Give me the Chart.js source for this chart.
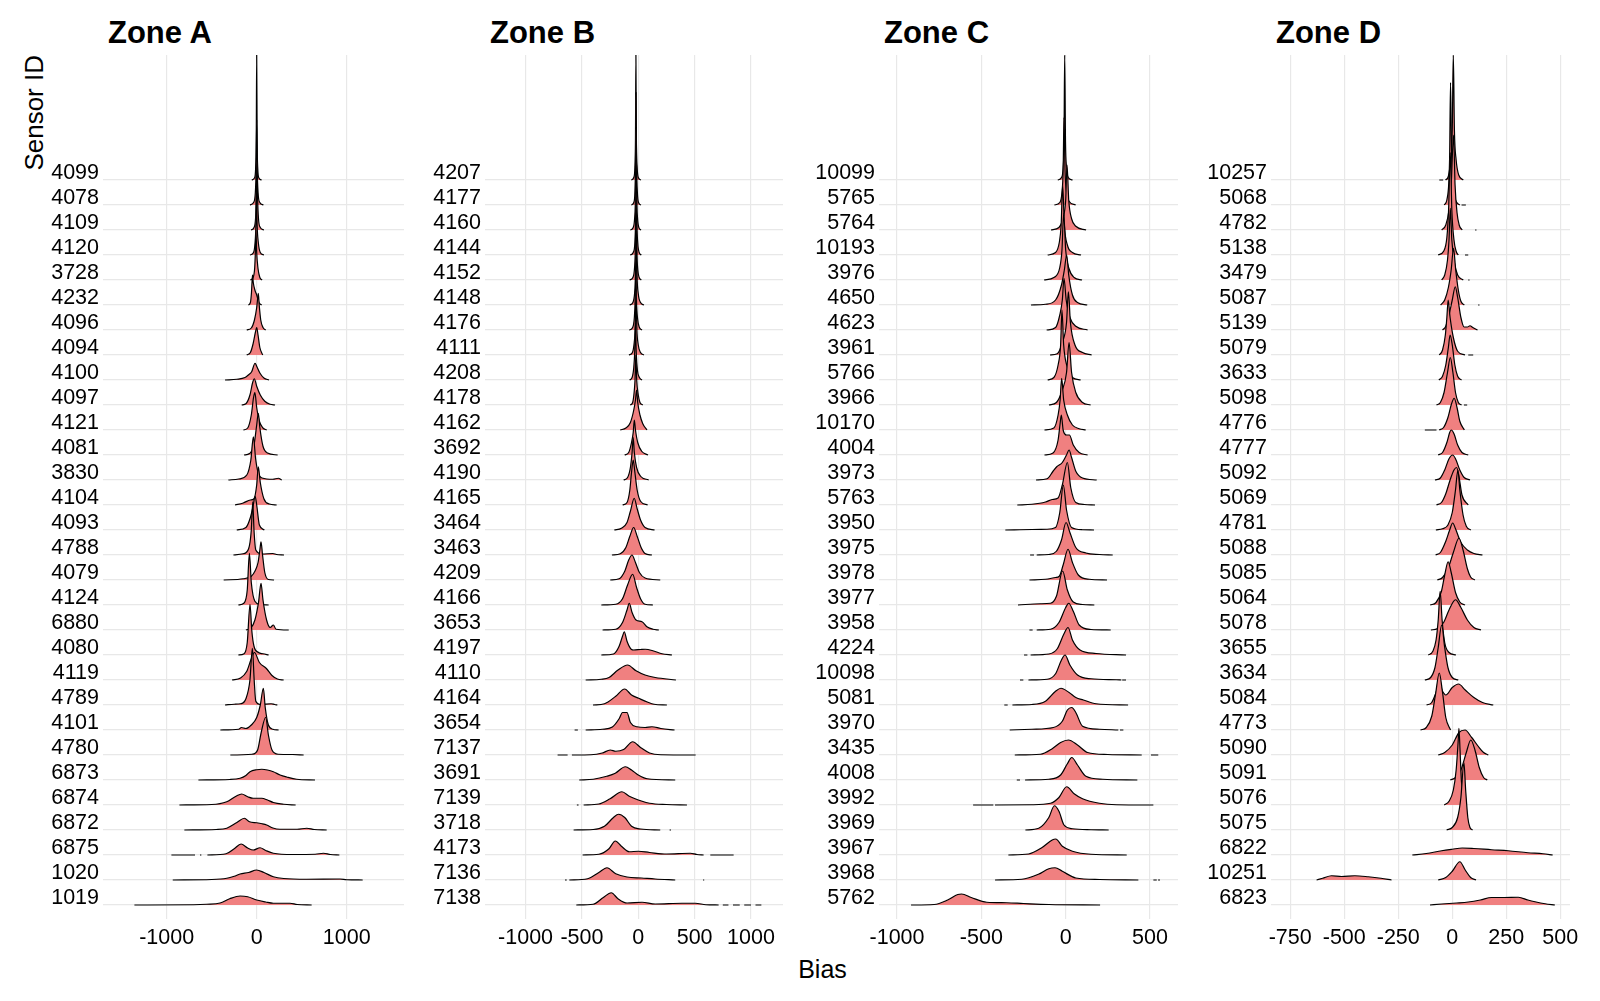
<!DOCTYPE html>
<html>
<head>
<meta charset="utf-8">
<title>Bias by sensor and zone</title>
<script src="https://cdn.jsdelivr.net/npm/chart.js@4.4.1/dist/chart.umd.min.js"></script>
<style>
  body { margin: 0; background: #fff; width: 1600px; height: 1001px; position: relative; overflow: hidden;
         font-family: "Liberation Sans", Arial, sans-serif; color: #000; }
  canvas { position: absolute; top: 55px; }
  .title { position: absolute; top: 16.5px; font-weight: bold; font-size: 31px; line-height: 1; white-space: nowrap; }
  .ytitle { position: absolute; left: 20.7px; top: 255px; width: 200px; text-align: right; font-size: 26px; line-height: 1;
            white-space: nowrap; transform: rotate(-90deg); transform-origin: 0 0; }
  .xtitle { position: absolute; left: 722.5px; top: 957px; width: 200px; text-align: center; font-size: 25px; line-height: 1; }
</style>
</head>
<body>

<div class="title" style="left:108px">Zone A</div>
<div class="title" style="left:490px">Zone B</div>
<div class="title" style="left:884px">Zone C</div>
<div class="title" style="left:1276px">Zone D</div>
<div class="ytitle">Sensor ID</div>
<div class="xtitle">Bias</div>

<canvas id="zoneA" width="431" height="904" style="left:3px"></canvas>
<canvas id="zoneB" width="428" height="904" style="left:385px"></canvas>
<canvas id="zoneC" width="429" height="904" style="left:779px"></canvas>
<canvas id="zoneD" width="429" height="904" style="left:1171px"></canvas>

<script>
// sensors listed top to bottom, each ridge = [bias, density height] pairs, null = break in the curve

const zoneA_ids = ["4099","4078","4109","4120","3728","4232","4096","4094","4100","4097","4121","4081","3830","4104","4093",
  "4788","4079","4124","6880","4080","4119","4789","4101","4780","6873","6874","6872","6875","1020","1019"];
const zoneA_ticks = [-1000, 0, 1000];
const zoneA_ridges = [
  [[-55,0],[-25,0.08],[-12,0.45],[-5,1.6],[0,5.0],[5,1.6],[12,0.45],[25,0.08],[55,0]],
  [[-75,0],[-35,0.1],[-15,0.5],[-6,1.5],[0,3.4],[6,1.5],[15,0.5],[35,0.1],[75,0]],
  [[-62,0],[-30,0.1],[-12,0.5],[-4,1.3],[3,2.8],[10,1.3],[20,0.45],[40,0.1],[80,0]],
  [[-75,0],[-35,0.1],[-18,0.5],[-9,1.2],[-3,2.6],[5,1.2],[18,0.5],[40,0.1],[80,0]],
  [[-70,0],[-40,0.1],[-22,0.5],[-15,1.1],[-8,2.0],[0,1.1],[15,0.45],[35,0.1],[60,0]],
  [[-93,0],[-70,0.1],[-58,0.5],[-52,0.9],[-46,1.2],[-38,0.9],[-20,0.6],[0,0.4],[25,0.1],[55,0]],
  [[-111,0],[-60,0.08],[-25,0.4],[0,0.9],[12,1.3],[18,1.47],[28,1.0],[45,0.4],[70,0.1],[100,0]],
  [[-111,0],[-70,0.1],[-40,0.45],[-15,0.9],[0,1.1],[15,0.8],[35,0.3],[67,0]],
  [[-352,0],[-220,0.03],[-130,0.1],[-93,0.2],[-56,0.33],[-18,0.67],[0,0.55],[37,0.27],[80,0.08],[137,0]],
  [[-167,0],[-120,0.05],[-75,0.4],[-45,0.9],[-26,1.05],[0,0.75],[40,0.4],[90,0.15],[150,0.03],[204,0]],
  [[-148,0],[-100,0.08],[-60,0.6],[-35,1.3],[-20,1.5],[0,0.9],[30,0.35],[70,0.08],[111,0]],
  [[-141,0],[-80,0.06],[-30,0.4],[0,1.2],[18,1.67],[35,1.1],[70,0.35],[120,0.08],[233,0]],
  [[-315,0],[-200,0.04],[-110,0.2],[-65,0.8],[-37,1.73],[-12,0.85],[15,0.3],[60,0.08],[180,0.03],[240,0.07],[278,0]],
  [[-241,0],[-150,0.08],[-70,0.2],[-30,0.25],[0,0.8],[18,1.53],[40,0.9],[80,0.25],[140,0.04],[222,0]],
  [[-222,0],[-120,0.1],[-70,0.5],[-40,0.95],[-18,1.36],[0,1.0],[30,0.2],[85,0]],
  [[-259,0],[-150,0.05],[-90,0.25],[-60,1.0],[-44,2.13],[-30,1.0],[-10,0.2],[60,0.04],[180,0.06],[220,0.02],[304,0]],
  [[-367,0],[-150,0.05],[-60,0.15],[-20,0.35],[15,0.7],[35,1.2],[48,1.53],[65,1.0],[90,0.3],[130,0.02],[193,0]],
  [[-204,0],[-140,0.08],[-105,0.6],[-81,2.07],[-60,0.9],[-20,0.15],[40,0.02],[133,0]],
  [[-120,0],[-60,0.1],[-20,0.4],[20,1.1],[48,1.87],[70,1.2],[110,0.4],[150,0.1],[185,0.2],[215,0.03],[356,0]],
  [[-204,0],[-140,0.05],[-105,0.5],[-74,2.03],[-55,1.0],[-30,0.35],[20,0.1],[70,0.05],[133,0]],
  [[-274,0],[-180,0.08],[-110,0.35],[-60,0.85],[-25,1.1],[30,0.7],[110,0.45],[170,0.18],[230,0.04],[300,0]],
  [[-352,0],[-250,0.03],[-180,0.05],[-120,0.25],[-75,1.0],[-48,2.27],[-28,1.0],[-10,0.15],[40,0.02],[160,0.05],[200,0.02],[230,0]],
  [[-404,0],[-200,0.03],[-170,0.1],[-120,0.06],[-60,0.2],[0,0.5],[40,1.0],[74,1.67],[95,0.9],[130,0.2],[180,0.03],[244,0]],
  [[-293,0],[-50,0.03],[10,0.2],[50,0.9],[100,1.51],[130,0.8],[170,0.2],[240,0.03],[400,0.02],[522,0]],
  [[-648,0],[-300,0.02],[-185,0.07],[-120,0.18],[-74,0.33],[0,0.41],[56,0.43],[120,0.4],[185,0.33],[260,0.2],[333,0.12],[444,0.03],[648,0]],
  [[-859,0],[-500,0.02],[-333,0.13],[-230,0.35],[-167,0.44],[-100,0.33],[-40,0.27],[56,0.27],[120,0.2],[185,0.1],[300,0.03],[433,0]],
  [[-804,0],[-450,0.02],[-333,0.07],[-220,0.3],[-137,0.47],[-80,0.33],[0,0.29],[60,0.25],[111,0.2],[180,0.08],[259,0.03],[450,0.03],[556,0.07],[640,0.02],[778,0]],
  [[-948,0],[-685,0],null,[-630,0],[-615,0],null,[-548,0],[-340,0.05],[-250,0.25],[-174,0.44],[-100,0.28],[-37,0.2],[37,0.29],[100,0.18],[185,0.07],[400,0.02],[650,0.03],[741,0.07],[820,0.02],[919,0]],
  [[-933,0],[-500,0.02],[-333,0.07],[-250,0.15],[-185,0.24],[-90,0.3],[0,0.4],[80,0.3],[185,0.13],[300,0.06],[556,0.03],[926,0.04],[1000,0.01],[1178,0]],
  [[-1359,0],[-700,0.01],[-556,0.03],[-407,0.08],[-300,0.25],[-185,0.36],[-100,0.33],[0,0.2],[100,0.12],[185,0.07],[370,0.07],[450,0.02],[611,0]]
];

const zoneB_ids = ["4207","4177","4160","4144","4152","4148","4176","4111","4208","4178","4162","3692","4190","4165","3464",
  "3463","4209","4166","3653","4197","4110","4164","3654","7137","3691","7139","3718","4173","7136","7138"];
const zoneB_ticks = [-1000, -500, 0, 500, 1000];
const zoneB_ridges = [
  [[-62,0],[-40,0.1],[-30,0.5],[-25,1.6],[-21,5.0],[-17,1.6],[-10,0.5],[0,0.1],[24,0]],
  [[-62,0],[-40,0.1],[-30,0.5],[-25,1.5],[-20,4.5],[-15,1.5],[-8,0.5],[2,0.1],[24,0]],
  [[-71,0],[-45,0.1],[-32,0.5],[-25,1.4],[-20,4.1],[-15,1.4],[-7,0.5],[5,0.1],[24,0]],
  [[-71,0],[-45,0.1],[-30,0.5],[-24,1.3],[-18,3.8],[-12,1.3],[-5,0.5],[8,0.1],[27,0]],
  [[-77,0],[-48,0.1],[-33,0.5],[-26,1.3],[-20,3.5],[-14,1.3],[-6,0.5],[8,0.1],[27,0]],
  [[-77,0],[-48,0.1],[-32,0.5],[-24,1.2],[-18,3.2],[-11,1.2],[0,0.45],[20,0.1],[50,0]],
  [[-80,0],[-50,0.1],[-35,0.5],[-28,1.2],[-22,2.9],[-16,1.2],[-6,0.45],[10,0.1],[33,0]],
  [[-83,0],[-52,0.1],[-36,0.5],[-27,1.1],[-20,2.6],[-13,1.1],[0,0.4],[20,0.1],[50,0]],
  [[-77,0],[-55,0.1],[-40,0.5],[-32,1.1],[-25,2.3],[-18,1.1],[-8,0.4],[10,0.1],[33,0]],
  [[-71,0],[-50,0.1],[-37,0.5],[-29,1.0],[-22,2.0],[-14,1.0],[0,0.4],[15,0.1],[40,0]],
  [[-160,0],[-110,0.08],[-70,0.3],[-40,0.8],[-25,1.2],[-15,1.6],[-5,1.1],[15,0.6],[40,0.25],[77,0]],
  [[-121,0],[-85,0.1],[-60,0.5],[-45,0.9],[-35,1.4],[-25,1.0],[-5,0.5],[30,0.15],[86,0]],
  [[-130,0],[-95,0.1],[-70,0.5],[-55,1.1],[-45,1.7],[-35,1.1],[-15,0.5],[20,0.15],[92,0]],
  [[-139,0],[-100,0.1],[-75,0.6],[-60,1.3],[-45,1.8],[-30,1.3],[-10,0.6],[20,0.15],[83,0]],
  [[-213,0],[-150,0.07],[-100,0.3],[-70,0.75],[-36,1.27],[-10,0.85],[20,0.4],[60,0.1],[145,0]],
  [[-234,0],[-160,0.05],[-110,0.3],[-75,0.75],[-41,1.1],[-10,0.75],[25,0.3],[60,0.06],[121,0]],
  [[-249,0],[-170,0.05],[-120,0.35],[-85,0.8],[-56,1.0],[-25,0.7],[10,0.3],[60,0.08],[195,0]],
  [[-328,0],[-200,0.03],[-140,0.25],[-95,0.8],[-50,1.23],[-15,0.7],[20,0.25],[60,0.03],[130,0]],
  [[-317,0],[-200,0.03],[-140,0.3],[-100,0.8],[-80,1.07],[-55,0.7],[-20,0.4],[33,0.33],[80,0.12],[130,0.03],[183,0]],
  [[-328,0],[-220,0.04],[-170,0.35],[-140,0.75],[-124,0.93],[-100,0.55],[-60,0.22],[-41,0.2],[20,0.22],[62,0.23],[136,0.16],[210,0.05],[299,0]],
  [[-467,0],[-330,0.03],[-260,0.1],[-180,0.4],[-95,0.6],[-20,0.37],[60,0.2],[150,0.1],[334,0]],
  [[-402,0],[-300,0.05],[-200,0.35],[-121,0.64],[-60,0.4],[3,0.27],[80,0.12],[140,0.03],[254,0]],
  [[-565,0],[-536,0],null,[-467,0],[-320,0.03],[-230,0.12],[-170,0.45],[-140,0.7],[-100,0.7],[-70,0.3],[-12,0.13],[60,0.1],[121,0.13],[200,0.06],[322,0]],
  [[-716,0],[-627,0],null,[-589,0],[-420,0.01],[-320,0.08],[-249,0.2],[-200,0.15],[-130,0.22],[-50,0.53],[20,0.3],[100,0.08],[200,0.01],[509,0]],
  [[-524,0],[-400,0.03],[-280,0.15],[-204,0.27],[-115,0.53],[-60,0.4],[0,0.2],[80,0.05],[328,0]],
  [[-545,0],[-530,0],null,[-485,0],[-350,0.04],[-250,0.25],[-145,0.53],[-80,0.35],[0,0.2],[100,0.07],[250,0.02],[432,0]],
  [[-574,0],[-400,0.02],[-300,0.15],[-220,0.5],[-175,0.63],[-120,0.5],[-60,0.15],[20,0.04],[195,0],null,[278,0],[290,0]],
  [[-494,0],[-350,0.03],[-260,0.25],[-204,0.56],[-150,0.35],[-80,0.13],[0,0.15],[100,0.1],[250,0.04],[462,0.07],[520,0.02],[580,0],null,[639,0],[846,0]],
  [[-650,0],[-635,0],null,[-612,0],[-450,0.05],[-350,0.3],[-278,0.49],[-200,0.25],[-100,0.12],[30,0.08],[150,0.04],[328,0],null,[575,0],[585,0]],
  [[-550,0],[-400,0.03],[-310,0.3],[-240,0.49],[-180,0.25],[-100,0.08],[33,0.11],[150,0.04],[388,0.07],[506,0.07],[600,0.01],[713,0],null,[750,0],[800,0],null,[840,0],[900,0],null,[940,0],[1000,0],null,[1040,0],[1092,0]]
];

const zoneC_ids = ["10099","5765","5764","10193","3976","4650","4623","3961","5766","3966","10170","4004","3973","5763","3950",
  "3975","3978","3977","3958","4224","10098","5081","3970","3435","4008","3992","3969","3967","3968","5762"];
const zoneC_ticks = [-1000, -500, 0, 500];
const zoneC_ridges = [
  [[-47,0],[-25,0.1],[-15,0.5],[-10,1.5],[-6,5.0],[-1,1.5],[5,0.5],[15,0.1],[41,0]],
  [[-67,0],[-35,0.1],[-22,0.5],[-15,1.4],[-10,3.5],[-4,1.4],[5,0.5],[20,0.15],[59,0]],
  [[-87,0],[-40,0.1],[-15,0.5],[0,1.2],[8,2.6],[18,1.2],[35,0.45],[60,0.15],[121,0]],
  [[-107,0],[-60,0.1],[-38,0.5],[-27,1.2],[-18,2.8],[-8,1.2],[10,0.4],[40,0.1],[91,0]],
  [[-128,0],[-70,0.1],[-35,0.5],[-22,1.2],[-12,2.67],[0,1.2],[20,0.45],[50,0.1],[97,0]],
  [[-206,0],[-120,0.03],[-60,0.2],[-25,0.8],[-8,1.4],[6,2.0],[18,1.2],[40,0.4],[70,0.1],[128,0]],
  [[-113,0],[-60,0.1],[-35,0.6],[-20,1.2],[-10,2.07],[3,1.2],[25,0.5],[60,0.15],[130,0]],
  [[-93,0],[-50,0.05],[-20,0.5],[5,1.3],[16,2.53],[28,1.3],[55,0.4],[100,0.1],[154,0]],
  [[-107,0],[-70,0.1],[-45,0.6],[-30,1.4],[-22,2.8],[-12,1.4],[10,0.5],[40,0.1],[89,0]],
  [[-99,0],[-55,0.1],[-20,0.6],[5,1.3],[20,2.5],[35,1.3],[60,0.5],[100,0.1],[148,0]],
  [[-126,0],[-70,0.08],[-45,0.6],[-33,1.2],[-24,2.07],[-12,1.2],[10,0.6],[40,0.2],[80,0.05],[119,0]],
  [[-126,0],[-75,0.08],[-45,0.6],[-34,1.2],[-26,1.6],[-15,1.0],[5,0.8],[22,0.8],[45,0.4],[80,0.1],[130,0]],
  [[-176,0],[-110,0.05],[-75,0.35],[-53,0.53],[-20,0.7],[5,1.0],[20,1.2],[35,0.9],[60,0.35],[100,0.08],[184,0]],
  [[-287,0],[-200,0.03],[-120,0.12],[-80,0.22],[-45,0.28],[-20,0.8],[10,1.7],[30,0.7],[60,0.1],[110,0.02],[174,0]],
  [[-358,0],[-200,0.02],[-113,0.03],[-60,0.1],[-35,0.7],[-14,1.8],[5,0.8],[35,0.1],[100,0.01],[168,0]],
  [[-211,0],[-188,0],null,[-172,0],[-100,0.02],[-55,0.15],[-25,0.6],[2,1.3],[25,0.9],[60,0.3],[120,0.08],[200,0.02],[279,0]],
  [[-215,0],[-120,0.03],[-60,0.1],[-38,0.15],[-15,0.6],[14,1.23],[40,0.7],[75,0.2],[140,0.03],[245,0]],
  [[-283,0],[-150,0.05],[-90,0.07],[-55,0.35],[-18,1.36],[10,0.6],[45,0.12],[100,0.02],[170,0]],
  [[-215,0],[-196,0],null,[-172,0],[-90,0.03],[-40,0.3],[0,0.9],[18,1.07],[45,0.75],[80,0.2],[150,0.02],[267,0]],
  [[-247,0],[-227,0],null,[-208,0],[-100,0.04],[-50,0.25],[-10,0.85],[14,1.1],[40,0.6],[85,0.2],[180,0.06],[358,0]],
  [[-271,0],[-251,0],null,[-221,0],[-110,0.03],[-60,0.25],[-25,0.8],[-4,1.0],[25,0.6],[70,0.2],[150,0.05],[300,0.01],[330,0],null,[335,0],[358,0]],
  [[-364,0],[-344,0],null,[-316,0],[-200,0.02],[-120,0.15],[-60,0.55],[-28,0.67],[20,0.5],[60,0.3],[105,0.2],[180,0.05],[370,0]],
  [[-332,0],[-200,0.03],[-73,0.1],[-20,0.35],[10,0.8],[36,0.9],[60,0.7],[100,0.15],[200,0.03],[312,0],null,[322,0],[342,0]],
  [[-302,0],[-150,0.03],[-80,0.25],[-30,0.5],[16,0.6],[70,0.4],[130,0.1],[250,0.02],[451,0],null,[506,0],[549,0]],
  [[-290,0],[-271,0],null,[-241,0],[-100,0.03],[-30,0.2],[10,0.65],[36,0.9],[70,0.6],[120,0.15],[220,0.03],[425,0]],
  [[-549,0],[-429,0],null,[-419,0],[-200,0.01],[-90,0.07],[-40,0.3],[6,0.73],[50,0.45],[100,0.25],[200,0.07],[300,0.01],[520,0]],
  [[-239,0],[-160,0.07],[-100,0.5],[-67,0.97],[-40,0.75],[-10,0.2],[40,0.05],[150,0.01],[255,0]],
  [[-340,0],[-220,0.04],[-140,0.3],[-80,0.6],[-59,0.64],[-20,0.35],[40,0.15],[150,0.03],[362,0]],
  [[-419,0],[-260,0.03],[-162,0.23],[-100,0.45],[-63,0.49],[-20,0.35],[60,0.08],[200,0.02],[431,0],null,[520,0],[540,0],null,[548,0],[559,0]],
  [[-917,0],[-780,0.02],[-700,0.2],[-640,0.42],[-617,0.44],[-560,0.3],[-468,0.11],[-350,0.09],[-251,0.06],[-100,0.02],[204,0]]
];

const zoneD_ids = ["10257","5068","4782","5138","3479","5087","5139","5079","3633","5098","4776","4777","5092","5069","4781",
  "5088","5085","5064","5078","3655","3634","5084","4773","5090","5091","5076","5075","6822","10251","6823"];
const zoneD_ticks = [-750, -500, -250, 0, 250, 500];
const zoneD_ridges = [
  [[-60,0],[-42,0],null,[-31,0],[-18,0.15],[-8,0.8],[0,2.0],[5,5.0],[10,2.0],[18,0.8],[30,0.2],[51,0]],
  [[-37,0],[-25,0.2],[-16,0.9],[-12,2.0],[-8,4.9],[-3,2.0],[5,0.8],[15,0.2],[35,0],null,[43,0],[63,0]],
  [[-49,0],[-30,0.2],[-15,0.8],[-5,1.8],[6,3.8],[13,1.8],[22,0.7],[32,0.2],[46,0],null,[106,0],[112,0]],
  [[-65,0],[-40,0.15],[-25,0.7],[-17,1.8],[-9,4.1],[-2,1.8],[8,0.6],[18,0.15],[28,0],null,[59,0],[74,0]],
  [[-49,0],[-35,0.2],[-22,0.8],[-15,1.6],[-9,2.87],[-2,1.6],[10,0.7],[25,0.2],[51,0],null,[74,0],[80,0]],
  [[-54,0],[-35,0.2],[-18,0.7],[-5,1.4],[6,2.27],[16,1.4],[28,0.6],[40,0.15],[56,0],null,[120,0],[126,0]],
  [[-45,0],[-30,0.15],[-15,0.6],[0,1.2],[14,1.73],[25,1.3],[40,0.5],[55,0.12],[70,0.12],[82,0.17],[95,0.1],[117,0]],
  [[-60,0],[-45,0.2],[-32,0.8],[-25,1.5],[-19,2.2],[-10,1.5],[5,0.7],[25,0.15],[59,0],null,[74,0],[97,0]],
  [[-62,0],[-45,0.15],[-30,0.6],[-18,1.3],[-10,1.8],[0,1.4],[12,0.6],[25,0.15],[43,0]],
  [[-73,0],[-55,0.1],[-38,0.5],[-22,1.3],[-9,1.9],[3,1.3],[15,0.5],[28,0.1],[43,0],null,[54,0],[69,0]],
  [[-127,0],[-73,0],null,[-60,0],[-40,0.1],[-20,0.5],[-5,1.0],[9,1.27],[22,0.9],[35,0.35],[56,0]],
  [[-65,0],[-45,0.1],[-25,0.5],[-12,0.9],[-5,1.0],[8,0.85],[25,0.4],[45,0.1],[74,0]],
  [[-80,0],[-55,0.08],[-35,0.4],[-15,0.85],[2,1.0],[15,0.85],[35,0.4],[55,0.1],[82,0]],
  [[-73,0],[-50,0.1],[-30,0.45],[-10,1.0],[8,1.4],[20,1.5],[30,1.2],[45,0.4],[74,0]],
  [[-76,0],[-45,0.05],[-20,0.2],[0,0.7],[15,1.6],[26,2.4],[35,1.6],[50,0.6],[65,0.15],[86,0]],
  [[-77,0],[-55,0.1],[-30,0.55],[-12,1.0],[2,1.28],[15,1.05],[40,0.5],[70,0.2],[100,0.06],[140,0]],
  [[-69,0],[-45,0.1],[-20,0.45],[5,1.1],[31,1.67],[50,1.2],[70,0.45],[85,0.12],[105,0]],
  [[-102,0],[-75,0.1],[-50,0.55],[-35,1.2],[-19,1.73],[-5,1.3],[15,0.5],[35,0.12],[59,0]],
  [[-99,0],[-70,0.05],[-40,0.3],[-15,0.8],[15,1.21],[40,0.9],[70,0.4],[100,0.1],[133,0]],
  [[-111,0],[-90,0.15],[-75,0.6],[-65,1.4],[-56,2.55],[-47,1.4],[-35,0.5],[-15,0.1],[17,0]],
  [[-127,0],[-100,0.1],[-80,0.5],[-65,1.3],[-49,2.2],[-35,1.3],[-20,0.5],[0,0.1],[28,0]],
  [[-119,0],[-95,0.1],[-75,0.5],[-60,0.85],[-45,0.55],[-30,0.4],[0,0.7],[29,0.84],[60,0.6],[100,0.3],[140,0.1],[190,0]],
  [[-147,0],[-120,0.1],[-95,0.55],[-78,1.4],[-60,2.28],[-45,1.5],[-30,0.5],[-8,0]],
  [[-65,0],[-35,0.1],[0,0.4],[31,0.9],[59,1.0],[90,0.7],[120,0.35],[145,0.1],[167,0]],
  [[-9,0],[15,0.1],[40,0.4],[65,1.1],[86,1.6],[105,1.2],[125,0.5],[145,0.1],[162,0]],
  [[-37,0],[-15,0.15],[5,0.6],[18,1.4],[27,2.5],[31,3.07],[36,2.2],[42,1.0],[50,0.3],[60,0]],
  [[-26,0],[0,0.1],[25,0.5],[40,1.3],[54,2.7],[62,1.6],[72,0.5],[82,0.1],[94,0]],
  [[-185,0],[-120,0.06],[-49,0.17],[0,0.23],[46,0.28],[100,0.26],[182,0.21],[259,0.17],[350,0.09],[420,0.05],[465,0]],
  [[-628,0],[-600,0.07],[-559,0.17],[-512,0.14],[-451,0.17],[-389,0.13],[-330,0.07],[-281,0],null,[-65,0],[-30,0.1],[0,0.35],[35,0.73],[60,0.4],[85,0.1],[110,0]],
  [[-103,0],[-49,0.04],[20,0.08],[74,0.12],[130,0.2],[182,0.3],[240,0.3],[306,0.31],[350,0.2],[383,0.13],[430,0.05],[475,0]]
];

const RIDGE_FILL = "#F08080";
const GRID = "#e8e8e8";
Chart.defaults.font.family = '"Liberation Sans", Arial, sans-serif';
Chart.defaults.color = "#000";

function ridgePoints(ridge, base) {
  return ridge.map(function (p, k) {
    if (p === null) {
      return { x: (ridge[k - 1][0] + ridge[k + 1][0]) / 2, y: null };
    }
    return { x: p[0], y: base + p[1] };
  });
}

function crearPanel(canvasId, ids, ridges, ticks, xmin, xmax) {
  const n = ids.length;
  const datasets = [];
  // bottom ridge first: Chart.js paints dataset 0 last, so lower ridges cover upper ones
  for (let i = n - 1; i >= 0; i--) {
    const base = n - 1 - i;
    datasets.push({
      label: ids[i],
      data: ridgePoints(ridges[i], base),
      fill: { value: base },
      backgroundColor: RIDGE_FILL,
      borderColor: "#000",
      borderWidth: 1.2,
      borderJoinStyle: "round",
      pointRadius: 0,
      cubicInterpolationMode: "monotone",
      spanGaps: false
    });
  }

  new Chart(document.getElementById(canvasId), {
    type: "line",
    data: { datasets: datasets },
    options: {
      responsive: false,
      animation: false,
      events: [],
      layout: { padding: { left: 0, top: 0, bottom: 0, right: 30 } },
      plugins: { legend: { display: false }, tooltip: { enabled: false }, title: { display: false } },
      scales: {
        x: {
          type: "linear",
          min: xmin,
          max: xmax,
          grid: { color: GRID, lineWidth: 1.2, drawTicks: false },
          border: { display: false },
          ticks: { font: { size: 21.5 }, padding: 5.8, maxRotation: 0, autoSkip: false, callback: v => String(v) },
          afterBuildTicks: s => { s.ticks = ticks.map(v => ({ value: v })); },
          afterFit: s => { s.height = 40; s.paddingLeft = 0; s.paddingRight = 0; s.paddingTop = 0; s.paddingBottom = 0; }
        },
        y: {
          type: "linear",
          min: -0.56,
          max: 34,
          grid: { color: GRID, lineWidth: 1.2, drawTicks: false },
          border: { display: false },
          ticks: { font: { size: 21.5 }, padding: 4, labelOffset: -6.5, autoSkip: false, callback: v => ids[n - 1 - v] },
          afterBuildTicks: s => { s.ticks = ids.map((_, k) => ({ value: k })); },
          afterFit: s => { s.width = 100; s.paddingLeft = 0; s.paddingRight = 0; s.paddingTop = 0; s.paddingBottom = 0; }
        }
      }
    }
  });
}

crearPanel("zoneA", zoneA_ids, zoneA_ridges, zoneA_ticks, -1708, 1637);
crearPanel("zoneB", zoneB_ids, zoneB_ridges, zoneB_ticks, -1360, 1284);
crearPanel("zoneC", zoneC_ids, zoneC_ridges, zoneC_ticks, -1107, 666);
crearPanel("zoneD", zoneD_ids, zoneD_ridges, zoneD_ticks, -839, 545);
</script>
</body>
</html>
